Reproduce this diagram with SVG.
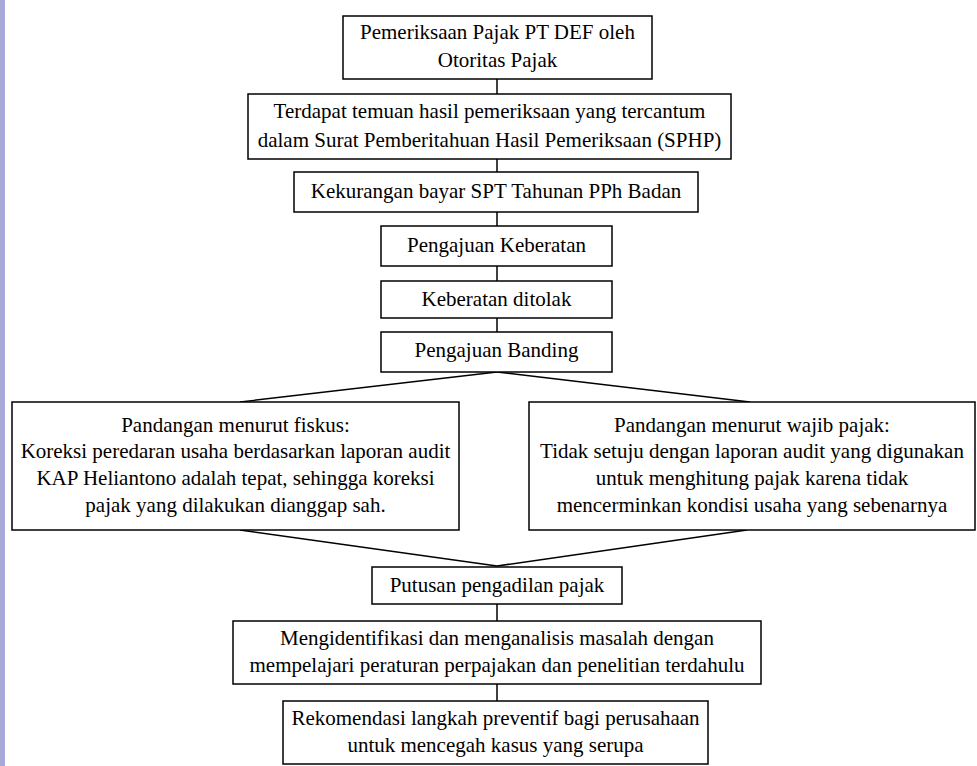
<svg xmlns="http://www.w3.org/2000/svg" width="977" height="766" viewBox="0 0 977 766">
<style>
.box{fill:#fff;stroke:#000;stroke-width:1.5}
.t{font-family:'Liberation Serif','Times New Roman',serif;font-size:21px;fill:#000;text-anchor:middle}
.c{stroke:#000;stroke-width:1.5;fill:none}
</style>
<rect x="0" y="0" width="977" height="766" fill="#fff"/>
<rect x="0" y="0" width="5" height="766" fill="#a9a9d9"/>
<g id="connectors">
<line class="c" x1="497" y1="79" x2="497" y2="94"/>
<line class="c" x1="497" y1="159" x2="497" y2="172"/>
<line class="c" x1="497" y1="212" x2="497" y2="226"/>
<line class="c" x1="497" y1="266" x2="497" y2="281"/>
<line class="c" x1="497" y1="318" x2="497" y2="332"/>
<line class="c" x1="497" y1="372" x2="240" y2="402"/>
<line class="c" x1="497" y1="372" x2="750" y2="402"/>
<line class="c" x1="240" y1="530" x2="497" y2="566"/>
<line class="c" x1="747" y1="530" x2="497" y2="566"/>
<line class="c" x1="497" y1="604" x2="497" y2="621"/>
<line class="c" x1="497" y1="684" x2="497" y2="701"/>
</g>
<g id="n1"><rect class="box" x="343" y="16" width="309" height="63"/>
<text class="t" x="497.5" y="39">Pemeriksaan Pajak PT DEF oleh</text>
<text class="t" x="497.5" y="67">Otoritas Pajak</text></g>
<g id="n2"><rect class="box" x="248" y="94" width="483" height="65"/>
<text class="t" x="489.5" y="118">Terdapat temuan hasil pemeriksaan yang tercantum</text>
<text class="t" x="489.5" y="147">dalam Surat Pemberitahuan Hasil Pemeriksaan (SPHP)</text></g>
<g id="n3"><rect class="box" x="294" y="172" width="404" height="40"/>
<text class="t" x="496" y="198">Kekurangan bayar SPT Tahunan PPh Badan</text></g>
<g id="n4"><rect class="box" x="381" y="226" width="231" height="40"/>
<text class="t" x="496.5" y="252">Pengajuan Keberatan</text></g>
<g id="n5"><rect class="box" x="381" y="281" width="231" height="37"/>
<text class="t" x="496.5" y="306">Keberatan ditolak</text></g>
<g id="n6"><rect class="box" x="381" y="332" width="231" height="40"/>
<text class="t" x="496.5" y="357">Pengajuan Banding</text></g>
<g id="n7"><rect class="box" x="12" y="402" width="447" height="128"/>
<text class="t" x="235.5" y="432">Pandangan menurut fiskus:</text>
<text class="t" x="235.5" y="458">Koreksi peredaran usaha berdasarkan laporan audit</text>
<text class="t" x="235.5" y="485">KAP Heliantono adalah tepat, sehingga koreksi</text>
<text class="t" x="235.5" y="512">pajak yang dilakukan dianggap sah.</text></g>
<g id="n8"><rect class="box" x="529" y="402" width="446" height="128"/>
<text class="t" x="752" y="432">Pandangan menurut wajib pajak:</text>
<text class="t" x="752" y="458">Tidak setuju dengan laporan audit yang digunakan</text>
<text class="t" x="752" y="485">untuk menghitung pajak karena tidak</text>
<text class="t" x="752" y="512">mencerminkan kondisi usaha yang sebenarnya</text></g>
<g id="n9"><rect class="box" x="372" y="567" width="250" height="37"/>
<text class="t" x="497" y="592">Putusan pengadilan pajak</text></g>
<g id="n10"><rect class="box" x="233" y="621" width="528" height="63"/>
<text class="t" x="497" y="645">Mengidentifikasi dan menganalisis masalah dengan</text>
<text class="t" x="497" y="672">mempelajari peraturan perpajakan dan penelitian terdahulu</text></g>
<g id="n11"><rect class="box" x="283" y="701" width="425" height="63"/>
<text class="t" x="495.5" y="725">Rekomendasi langkah preventif bagi perusahaan</text>
<text class="t" x="495.5" y="752">untuk mencegah kasus yang serupa</text></g>
</svg>
